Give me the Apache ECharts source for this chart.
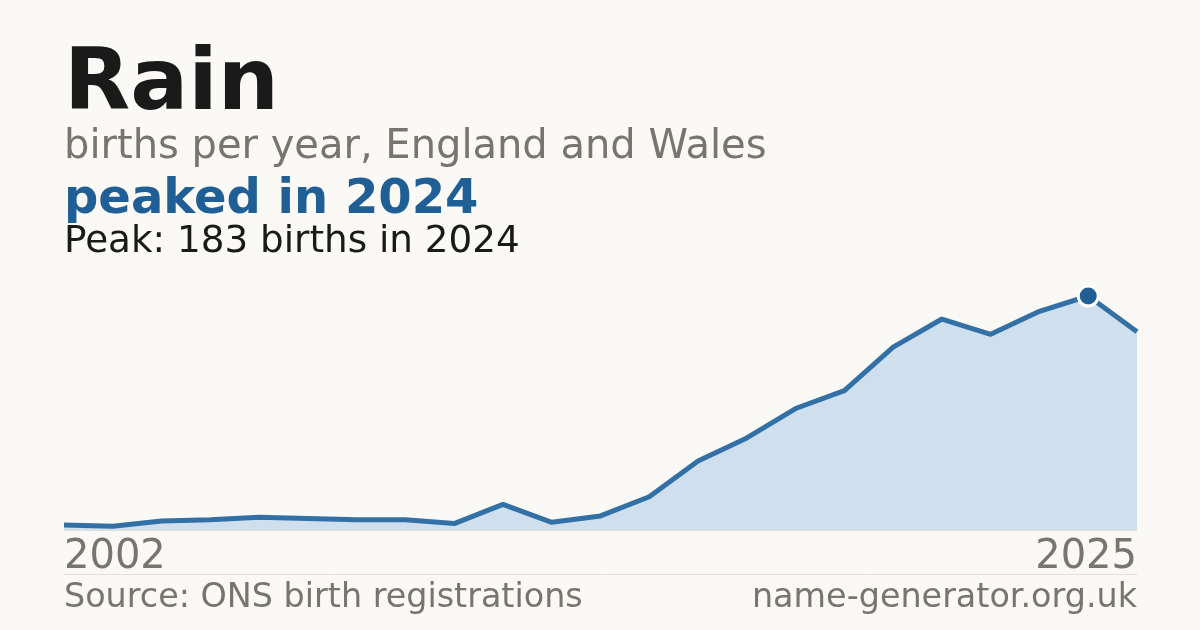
<!DOCTYPE html>
<html>
<head>
<meta charset="utf-8">
<title>Rain</title>
<script src="https://cdn.jsdelivr.net/npm/echarts@6/dist/echarts.min.js"></script>
<style>
    html, body { margin: 0; padding: 0; background: #faf9f5; }
    #rain_chart { width: 1200px; height: 630px; }
</style>
</head>
<body>
<div id="rain_chart"></div>
<script>
// years shown on the axis (one point per bar of data, 23 points)
var years = ['2002', '2004', '2005', '2006', '2007', '2008', '2009', '2010', '2011', '2012', '2013', '2014',
    '2015', '2016', '2017', '2018', '2019', '2020', '2021', '2022', '2023', '2024', '2025'];
// births per year
var births = [4, 3, 7, 8, 10, 9, 8, 8, 5, 20, 6, 11, 26, 54, 72, 95, 109, 143, 165, 153, 171, 183, 155];
var peakYear = '2024';
var peakValue = 183;

function RainChart(){

}
RainChart.prototype.init = function(){
    this.loadChart();
}
RainChart.prototype.loadChart = function(){
    var chartInstance = echarts.init(document.getElementById("rain_chart"));
    var font = 'DejaVu Sans';
    var grey = '#79746e';
    var blue = '#1f5f96';
    var peakIndex = years.indexOf(peakYear);
    var option = {
        backgroundColor: '#faf9f5',
        animation: false,
        grid: {
            top: 296,
            left: 64,
            right: 63,
            bottom: 100
        },
        xAxis: [{
            type: 'category',
            data: years,
            boundaryGap: false,
            axisLine: {
                lineStyle: {
                    color: '#e3dfd8',
                    width: 1
                }
            },
            axisTick: { show: false },
            axisLabel: {
                interval: function(i){
                    return i === 0 || i === years.length - 1;
                },
                alignMinLabel: 'left',
                alignMaxLabel: 'right',
                verticalAlign: 'middle',
                margin: 28,
                color: grey,
                fontFamily: font,
                fontSize: 40
            }
        }],
        yAxis: [{
            type: 'value',
            min: 0,
            max: peakValue,
            show: false,
            splitLine: { show: false }
        }],
        series: [{
            type: 'line',
            data: births,
            symbol: 'none',
            lineStyle: {
                color: '#3370a6',
                width: 5,
                join: 'round'
            },
            areaStyle: {
                color: '#cfdfee',
                opacity: 1
            },
            markPoint: {
                symbol: 'circle',
                symbolSize: 20,
                itemStyle: {
                    color: blue,
                    borderColor: '#ffffff',
                    borderWidth: 3
                },
                label: { show: false },
                data: [{ coord: [peakIndex, births[peakIndex]] }]
            }
        }],
        graphic: [{
            type: 'text', left: 64, top: 44,
            style: { text: 'Rain', font: 'bold 86px ' + font, fill: '#1a1a1a' }
        }, {
            type: 'text', left: 64, top: 128,
            style: { text: 'births per year, England and Wales', font: '40px ' + font, fill: grey }
        }, {
            type: 'text', left: 64, top: 177,
            style: { text: 'peaked in ' + peakYear, font: 'bold 48px ' + font, fill: blue }
        }, {
            type: 'text', left: 64, top: 224,
            style: { text: 'Peak: ' + peakValue + ' births in ' + peakYear, font: '37.3px ' + font, fill: '#1a1a1a' }
        }, {
            type: 'line',
            shape: { x1: 64, y1: 574.5, x2: 1137, y2: 574.5 },
            style: { stroke: '#e3dfd8', lineWidth: 1 }
        }, {
            type: 'text', left: 64, top: 582,
            style: { text: 'Source: ONS birth registrations', font: '33.4px ' + font, fill: grey }
        }, {
            type: 'text', right: 63, top: 582,
            style: { text: 'name-generator.org.uk', font: '33.4px ' + font, fill: grey }
        }]
    };
    chartInstance.setOption(option, true);
    window.onresize = function(){
        chartInstance.resize();
    }
}
var start_rain = new RainChart();
start_rain.init();
</script>
</body>
</html>
